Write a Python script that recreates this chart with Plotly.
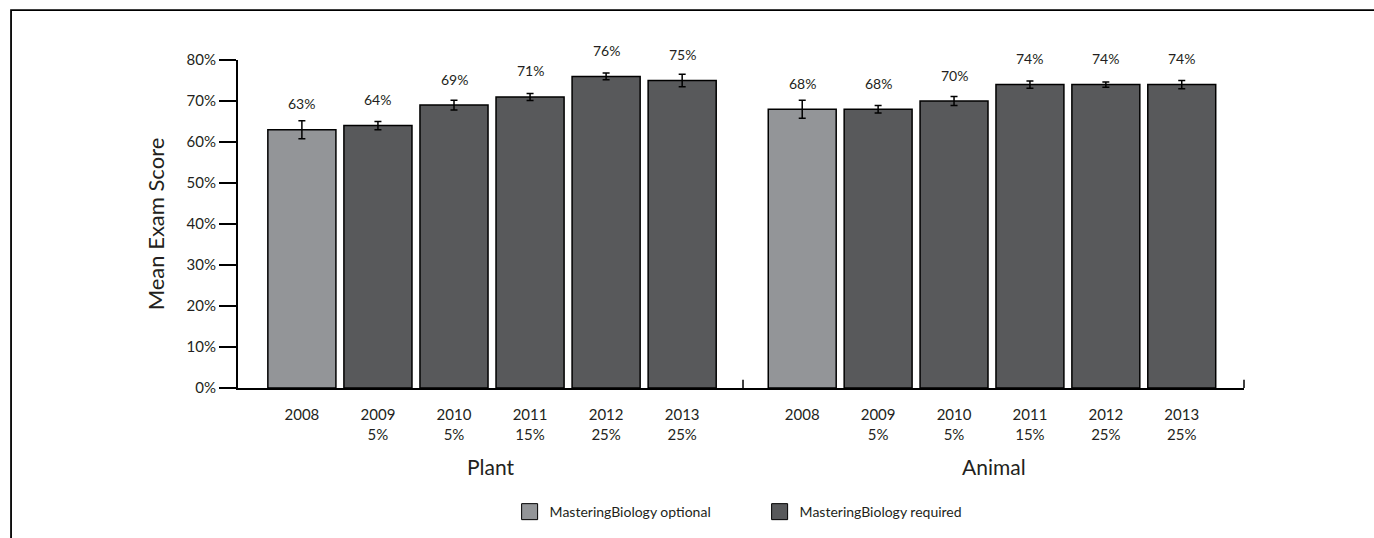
import plotly.graph_objects as go

# data
years = ["2008", "2009<br>5%", "2010<br>5%", "2011<br>15%", "2012<br>25%", "2013<br>25%"]
plant = [0.63, 0.64, 0.69, 0.71, 0.76, 0.75]
plant_err = [0.022, 0.010, 0.012, 0.0085, 0.008, 0.015]
animal = [0.68, 0.68, 0.70, 0.74, 0.74, 0.74]
animal_err = [0.022, 0.009, 0.011, 0.009, 0.0065, 0.010]
optional = [True, False, False, False, False, False]
groups = ["Plant", "Animal"]
legend_names = ["MasteringBiology optional", "MasteringBiology required"]

light = "#939598"
dark = "#58595b"
ink = "#231f20"
font = "Lato"

colors = [light if o else dark for o in optional]

fig = go.Figure()

for vals, errs, xa in [(plant, plant_err, "x"), (animal, animal_err, "x2")]:
    fig.add_trace(go.Bar(
        x=years, y=vals, xaxis=xa, yaxis="y",
        marker=dict(color=colors, line=dict(color="black", width=1.5)),
        error_y=dict(type="data", array=errs, color="black", thickness=1.5, width=3.5),
        showlegend=False, hoverinfo="skip",
    ))
    # value labels above bars (category index as x)
    for i, v in enumerate(vals):
        fig.add_annotation(x=i, y=v, xref=xa, yref="y", text=f"{v:.0%}",
                           showarrow=False, yshift=26, yanchor="middle",
                           font=dict(family=font, size=14, color=ink))

# legend entries
for name, c in zip(legend_names, [light, dark]):
    fig.add_trace(go.Scatter(
        x=[None], y=[None], mode="markers", name=name,
        marker=dict(symbol="square", size=18, color=c, line=dict(color="black", width=1)),
    ))

# group labels
for g, xa in zip(groups, ["x", "x2"]):
    fig.add_annotation(x=0.5, y=-0.24, xref=xa + " domain", yref="paper", text=g,
                       showarrow=False, yanchor="middle",
                       font=dict(family=font, size=21, color=ink))

# small end ticks on the x axis
for xr in ["x domain", "x2 domain"]:
    fig.add_shape(type="line", xref=xr, yref="paper", x0=1, x1=1, y0=0, y1=0.025,
                  line=dict(color="black", width=1.5))

# outer frame (partially visible)
fig.add_shape(type="rect", xref="paper", yref="paper", x0=-0.2256, x1=1.6, y0=-0.7, y1=1.152,
              line=dict(color="black", width=1.8))

xcommon = dict(type="category", showgrid=False, zeroline=False, showline=True,
               linecolor="black", linewidth=2, ticks="", automargin=False,
               tickfont=dict(family=font, size=15, color=ink), ticklabelstandoff=12,
               anchor="y")

fig.update_layout(
    width=1374, height=538,
    margin=dict(l=238, r=130, t=60, b=149),
    paper_bgcolor="white", plot_bgcolor="white",
    bargap=0.105,
    xaxis=dict(domain=[0, 0.502], range=[-0.84, 5.80], **xcommon),
    xaxis2=dict(domain=[0.502, 1], range=[-0.78, 5.82], **xcommon),
    yaxis=dict(range=[0, 0.8], dtick=0.1, tickformat=".0%", showgrid=False, zeroline=False,
               showline=True, linecolor="black", linewidth=2, ticks="outside", ticklen=17,
               tickwidth=2, tickcolor="black", automargin=False,
               tickfont=dict(family=font, size=15, color=ink),
               title=dict(text="Mean Exam Score", standoff=16,
                          font=dict(family=font, size=22, color=ink))),
    legend=dict(orientation="h", x=0.270, xanchor="left", y=-0.374, yanchor="middle",
                entrywidth=205, font=dict(family=font, size=14, color=ink),
                bgcolor="rgba(0,0,0,0)"),
    font=dict(family=font, color=ink),
)

fig.write_html("out.html", config={"displayModeBar": False},
               post_script="document.body.style.margin='0';")
